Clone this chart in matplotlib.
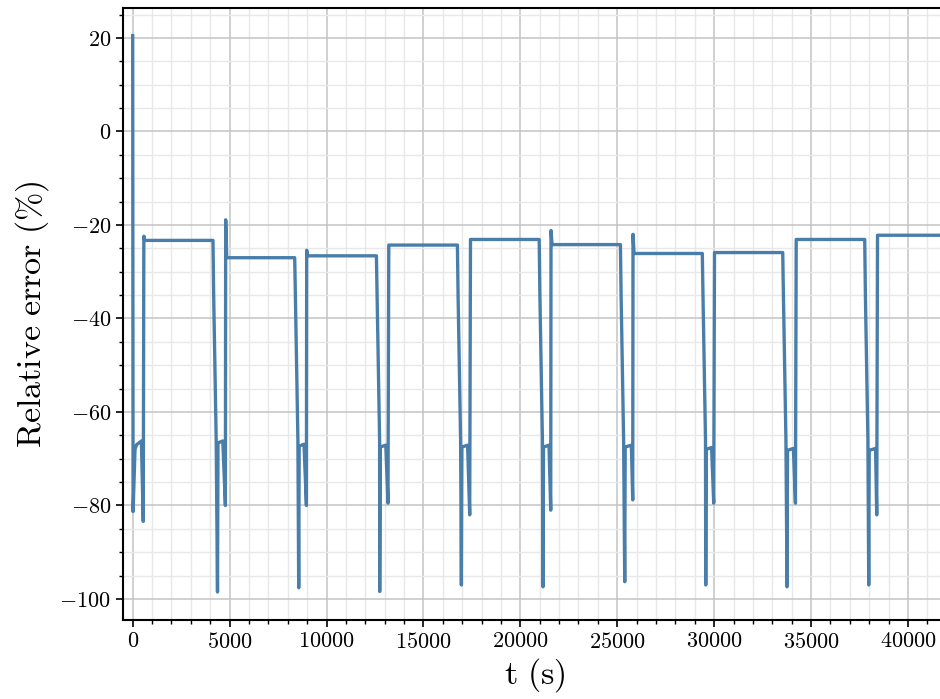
import matplotlib
matplotlib.use("Agg")
import matplotlib.pyplot as plt
from matplotlib.ticker import MultipleLocator

plt.rcParams.update({
    "font.family": "serif",
    "font.serif": ["cmr10"],
    "mathtext.fontset": "cm",
    "axes.formatter.use_mathtext": True,
    "axes.unicode_minus": True,
})

# Start-up transient (t in s, relative error in %)
start_t = [0, 20, 120, 200, 450, 545, 575, 620]
start_err = [20.5, -81.3, -68.0, -67.0, -66.2, -83.4, -22.4, -23.3]

# Plateau levels between discharge events (10 plateaus)
plateau_err = [-23.3, -27.0, -26.6, -24.3, -23.1, -24.2, -26.1, -25.9, -23.1, -22.2]

# Per-event values (9 events)
drop_t = [4143, 8359, 12575, 16754, 20975, 25165, 29390, 33540, 37770]
knee_err = [-35.0, -66.0]
bottom_t = [4376, 8566, 12745, 16960, 21171, 25387, 29567, 33762, 37977]
bottom_err = [-98.5, -97.6, -98.4, -97.0, -97.4, -96.3, -97.0, -97.4, -97.0]
hump_err = [-66.6, -67.3, -67.5, -67.5, -67.5, -67.5, -68.0, -68.2, -68.2]
hump_end_t = [4650, 8840, 13060, 17280, 21480, 25730, 29870, 34090, 38330]
trough_t = [4783, 8963, 13173, 17389, 21569, 25800, 29979, 34195, 38390]
trough_err = [-80.0, -80.0, -79.5, -82.0, -81.0, -78.8, -79.5, -79.5, -82.0]
overshoot_err = [-18.9, -25.4, None, None, -21.2, -22.0, None, None, None]

end_t = 42000

t = list(start_t)
err = list(start_err)
for i in range(len(drop_t)):
    t += [drop_t[i], drop_t[i] + 35, drop_t[i] + 165, bottom_t[i]]
    err += [plateau_err[i], knee_err[0], knee_err[1], bottom_err[i]]
    t += [bottom_t[i] + 25, hump_end_t[i], trough_t[i]]
    err += [hump_err[i], hump_err[i] + 0.4, trough_err[i]]
    if overshoot_err[i] is not None:
        t += [trough_t[i] + 15, trough_t[i] + 70]
        err += [overshoot_err[i], plateau_err[i + 1]]
    else:
        t += [trough_t[i] + 40]
        err += [plateau_err[i + 1]]
t.append(end_t)
err.append(plateau_err[-1])

fig = plt.figure(figsize=(9.4, 6.99), dpi=100)
W, H = 940, 699
ax = fig.add_axes([123 / W, 1 - 619.8 / H, (946.7 - 123) / W, (619.8 - 7.8) / H])

ax.plot(t, err, color="#4a7eaa", lw=2.4, zorder=3)

ax.set_xlim(-500, 42000)
ax.margins(y=0.05)

ax.xaxis.set_major_locator(MultipleLocator(5000))
ax.xaxis.set_minor_locator(MultipleLocator(1000))
ax.yaxis.set_major_locator(MultipleLocator(20))
ax.yaxis.set_minor_locator(MultipleLocator(5))

ax.grid(which="major", color="#c4c4c4", lw=1.1, zorder=0)
ax.grid(which="minor", color="#e8e8e8", lw=1.0, zorder=0)
ax.set_axisbelow(True)

for side in ["left", "bottom", "top", "right"]:
    ax.spines[side].set_linewidth(1.5)
    ax.spines[side].set_color("black")

ax.tick_params(which="major", direction="out", length=5, width=1.2, labelsize=16,
               top=False, right=False)
ax.tick_params(which="minor", direction="out", length=3, width=1.0,
               top=False, right=False)

ax.set_xlabel(r"$\mathrm{t\ (s)}$", fontsize=24.5, labelpad=3)
ax.set_ylabel(r"$\mathrm{Relative\ error\ (\%)}$", fontsize=24.5, labelpad=6)

fig.savefig("out.png", dpi=100)
